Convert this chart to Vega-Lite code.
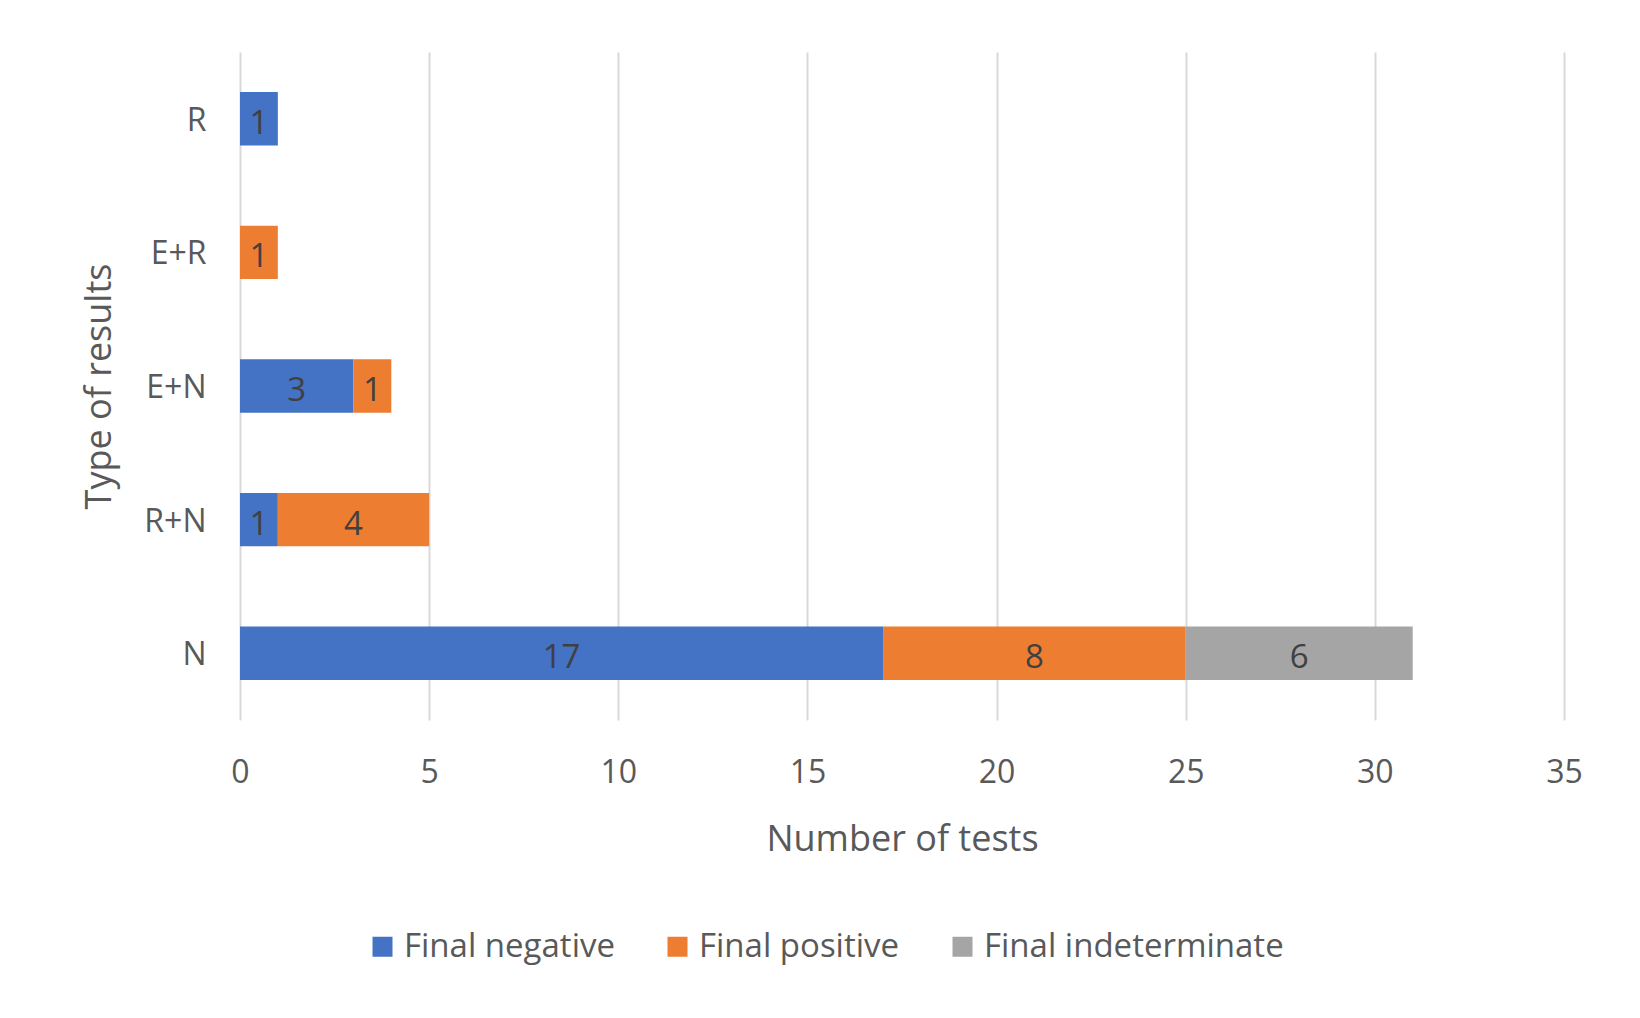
{
  "$schema": "https://vega.github.io/schema/vega-lite/v6.json",
  "width": 1324,
  "height": 668,
  "autosize": {"type": "none"},
  "padding": {"left": 240, "top": 52, "right": 76, "bottom": 298},
  "background": "white",
  "config": {
    "font": "Open Sans",
    "view": {"stroke": null}
  },
  "data": {
    "values": [
      {"type": "R", "result": "Final negative", "count": 1},
      {"type": "E+R", "result": "Final positive", "count": 1},
      {"type": "E+N", "result": "Final negative", "count": 3},
      {"type": "E+N", "result": "Final positive", "count": 1},
      {"type": "R+N", "result": "Final negative", "count": 1},
      {"type": "R+N", "result": "Final positive", "count": 4},
      {"type": "N", "result": "Final negative", "count": 17},
      {"type": "N", "result": "Final positive", "count": 8},
      {"type": "N", "result": "Final indeterminate", "count": 6}
    ]
  },
  "transform": [
    {"stack": "count", "groupby": ["type"], "as": ["x0", "x1"]}
  ],
  "encoding": {
    "y": {
      "field": "type",
      "type": "nominal",
      "sort": ["R", "E+R", "E+N", "R+N", "N"],
      "scale": {"paddingInner": 0.6, "paddingOuter": 0.3},
      "title": "Type of results",
      "axis": {
        "domain": false,
        "ticks": false,
        "labelFontSize": 32,
        "labelColor": "#595959",
        "labelPadding": 34,
        "labelOffset": 2,
        "titleFontSize": 36,
        "titleFontWeight": "normal",
        "titleColor": "#595959",
        "titleX": -130,
        "titleY": 334,
        "titleBaseline": "alphabetic",
        "titleAlign": "center",
        "titleAngle": -90
      }
    }
  },
  "layer": [
    {
      "mark": {"type": "bar"},
      "encoding": {
        "x": {
          "field": "x0",
          "type": "quantitative",
          "scale": {"domain": [0, 35], "nice": false},
          "title": "Number of tests",
          "axis": {
            "values": [0, 5, 10, 15, 20, 25, 30, 35],
            "domain": false,
            "ticks": false,
            "grid": true,
            "gridColor": "#D9D9D9",
            "gridWidth": 2,
            "labelFlush": false,
            "labelFontSize": 32,
            "labelColor": "#595959",
            "labelPadding": 37,
            "titleFontSize": 36,
            "titleFontWeight": "normal",
            "titleColor": "#595959",
            "titleY": 130,
            "titleBaseline": "alphabetic"
          }
        },
        "x2": {"field": "x1"},
        "color": {
          "field": "result",
          "type": "nominal",
          "sort": ["Final negative", "Final positive", "Final indeterminate"],
          "scale": {
            "domain": ["Final negative", "Final positive", "Final indeterminate"],
            "range": ["#4472C4", "#ED7D31", "#A5A5A5"]
          },
          "legend": {
            "title": null,
            "orient": "none",
            "direction": "horizontal",
            "legendX": 126,
            "legendY": 878,
            "symbolType": "square",
            "symbolSize": 400,
            "symbolStrokeWidth": 0,
            "symbolOpacity": 1,
            "labelFontSize": 33,
            "labelColor": "#595959",
            "labelOffset": 5,
            "columnPadding": 46,
            "labelLimit": 400
          }
        }
      }
    },
    {
      "transform": [
        {"fold": ["x0", "x1"], "as": ["edge", "xpos"]},
        {"aggregate": [{"op": "mean", "field": "xpos", "as": "xmid"}], "groupby": ["type", "result", "count"]}
      ],
      "mark": {"type": "text", "fontSize": 33, "color": "#404040", "baseline": "middle", "align": "center", "dy": 5},
      "encoding": {
        "x": {
          "field": "xmid",
          "type": "quantitative",
          "title": "Number of tests",
          "axis": {
            "values": [0, 5, 10, 15, 20, 25, 30, 35],
            "domain": false,
            "ticks": false,
            "grid": true,
            "gridColor": "#D9D9D9",
            "gridWidth": 2,
            "labelFlush": false,
            "labelFontSize": 32,
            "labelColor": "#595959",
            "labelPadding": 37,
            "titleFontSize": 36,
            "titleFontWeight": "normal",
            "titleColor": "#595959",
            "titleY": 130,
            "titleBaseline": "alphabetic"
          }
        },
        "text": {"field": "count", "type": "quantitative"}
      }
    }
  ]
}
